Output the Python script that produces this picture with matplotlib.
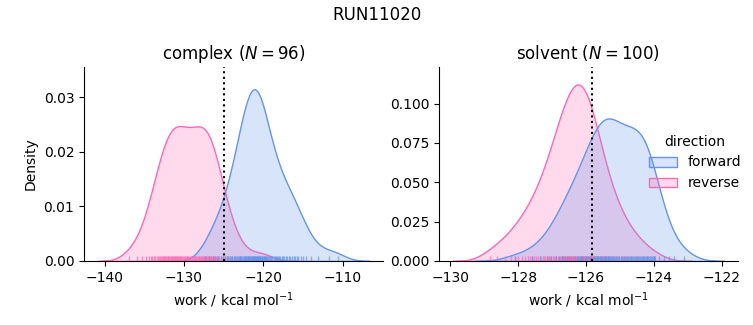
import numpy as np
import matplotlib
matplotlib.use("Agg")
import matplotlib.pyplot as plt
from matplotlib.patches import Patch
from matplotlib.colors import to_rgba

# work values (kcal/mol) per phase and direction
complex_forward = [
    -127.3, -126.8,
    -126.4, -126.1, -125.7,
    -125.4, -125.1, -124.85, -124.6,
    -124.42, -124.25, -124.08, -123.92, -123.75, -123.58,
    -123.44, -123.33, -123.22, -123.11, -123.0, -122.89, -122.78, -122.67, -122.56,
    -122.46, -122.38, -122.31, -122.23, -122.15, -122.08, -122.0, -121.92, -121.85, -121.77, -121.69, -121.62, -121.54,
    -121.47, -121.41, -121.34, -121.28, -121.22, -121.16, -121.09, -121.03,
    -120.97, -120.91, -120.84, -120.78, -120.72, -120.66, -120.59, -120.53,
    -120.46, -120.38, -120.29, -120.21, -120.13, -120.04, -119.96, -119.88, -119.79, -119.71, -119.63, -119.54,
    -119.43, -119.29, -119.14, -119.0, -118.86, -118.71, -118.57,
    -118.43, -118.29, -118.14, -118.0, -117.86, -117.71, -117.57,
    -117.4, -117.2, -117.0, -116.8, -116.6,
    -116.4, -116.2, -116.0, -115.8, -115.6,
    -115.33, -115.0, -114.67,
    -114.0, -113.1, -111.8, -110.6,
]
complex_reverse = [
    -136.9, -135.9, -135.3, -134.8,
    -134.4, -134.2, -134.0, -133.8, -133.6,
    -133.44, -133.31, -133.19, -133.06, -132.94, -132.81, -132.69, -132.56,
    -132.45, -132.35, -132.25, -132.15, -132.05, -131.95, -131.85, -131.75, -131.65, -131.55,
    -131.45, -131.36, -131.27, -131.18, -131.09, -131.0, -130.91, -130.82, -130.73, -130.64, -130.55,
    -130.44, -130.33, -130.22, -130.11, -130.0, -129.89, -129.78, -129.67, -129.56,
    -129.44, -129.33, -129.22, -129.11, -129.0, -128.89, -128.78, -128.67, -128.56,
    -128.45, -128.35, -128.25, -128.15, -128.05, -127.95, -127.85, -127.75, -127.65, -127.55,
    -127.45, -127.36, -127.27, -127.18, -127.09, -127.0, -126.91, -126.82, -126.73, -126.64, -126.55,
    -126.44, -126.33, -126.22, -126.11, -126.0, -125.89, -125.78, -125.67, -125.56,
    -125.38, -125.13, -124.88, -124.63,
    -124.33, -124.0, -123.67,
    -123.0, -121.2, -119.8,
]
solvent_forward = [
    -128.1, -127.6, -127.35,
    -127.15, -127.02, -126.9, -126.8,
    -126.72, -126.67, -126.61, -126.56, -126.5, -126.44, -126.39, -126.33, -126.28,
    -126.23, -126.19, -126.15, -126.11, -126.08, -126.04, -126.0, -125.96, -125.92, -125.89, -125.85, -125.81, -125.77,
    -125.74, -125.71, -125.69, -125.67, -125.64, -125.62, -125.6, -125.57, -125.55, -125.52, -125.5,
    -125.48, -125.45, -125.43, -125.4, -125.38, -125.36, -125.33, -125.31, -125.28, -125.26,
    -125.23, -125.2, -125.17, -125.14, -125.11, -125.08, -125.05, -125.02,
    -124.98, -124.95, -124.92, -124.89, -124.86, -124.83, -124.8, -124.77,
    -124.73, -124.7, -124.67, -124.64, -124.61, -124.58, -124.55, -124.52,
    -124.49, -124.46, -124.43, -124.4, -124.37, -124.34, -124.31,
    -124.29, -124.26, -124.24, -124.21, -124.19, -124.16, -124.14, -124.11, -124.09, -124.06, -124.04, -124.01, -123.99, -123.96,
    -123.85, -123.7, -123.55, -123.4, -123.1,
]
solvent_reverse = [
    -128.82, -128.62, -128.38,
    -128.2, -128.1, -128.0, -127.9, -127.8,
    -127.72, -127.66, -127.59, -127.53, -127.47, -127.41, -127.34, -127.28,
    -127.23, -127.2, -127.16, -127.12, -127.09, -127.05, -127.02, -126.98, -126.95, -126.91, -126.88, -126.84, -126.8, -126.77,
    -126.74, -126.72, -126.7, -126.67, -126.65, -126.63, -126.61, -126.59, -126.57, -126.54, -126.52, -126.5,
    -126.48, -126.46, -126.43, -126.41, -126.39, -126.37, -126.35, -126.33, -126.3, -126.28, -126.26,
    -126.24, -126.22, -126.2, -126.18, -126.16, -126.14, -126.12, -126.1, -126.08, -126.06, -126.04, -126.02, -126.0,
    -125.98, -125.96, -125.94, -125.92, -125.9, -125.88, -125.86, -125.84, -125.82, -125.8, -125.78, -125.76,
    -125.73, -125.69, -125.65, -125.6, -125.56, -125.52, -125.48, -125.44, -125.4, -125.35, -125.31, -125.27,
    -125.21, -125.13, -125.04, -124.96, -124.88, -124.79,
    -124.67, -124.5, -124.33, -124.0,
]

# free energy estimate per phase (dotted line)
complex_dg = -124.97
solvent_dg = -125.83

colors = {"forward": "cornflowerblue", "reverse": "hotpink"}


def kde(values, n_total):
    # gaussian kde, scott bandwidth, normalised over all groups
    values = np.asarray(values)
    bw = values.std(ddof=1) * len(values) ** (-1 / 5)
    grid = np.linspace(values.min() - 3 * bw, values.max() + 3 * bw, 200)
    dens = np.exp(-0.5 * ((grid[:, None] - values[None, :]) / bw) ** 2).sum(axis=1)
    dens /= bw * np.sqrt(2 * np.pi) * n_total
    return grid, dens


n_total = len(complex_forward) + len(complex_reverse) + len(solvent_forward) + len(solvent_reverse)

fig = plt.figure(figsize=(7.53, 3.25), dpi=100)
ax1 = fig.add_axes([0.1116, 0.197, 0.397, 0.597])
ax2 = fig.add_axes([0.583, 0.197, 0.397, 0.597])

panels = [
    (ax1, "complex", complex_forward, complex_reverse, complex_dg, 0.0355),
    (ax2, "solvent", solvent_forward, solvent_reverse, solvent_dg, 0.1233),
]

for ax, phase, fwd, rev, dg, ytop in panels:
    for name, vals in [("reverse", rev), ("forward", fwd)]:
        x, y = kde(vals, n_total)
        ax.fill_between(x, 0, y, facecolor=to_rgba(colors[name], 0.25),
                        edgecolor=colors[name], linewidth=1)
        ax.vlines(vals, 0, 0.025, transform=ax.get_xaxis_transform(),
                  colors=colors[name], linewidth=1, alpha=0.7)
    ax.axvline(dg, color="black", linestyle=":", linewidth=1.5)
    ax.set_ylim(0, ytop)
    ax.set_title(f"{phase} ($N = {len(fwd)}$)", fontsize=12)
    ax.set_xlabel("work / kcal mol$^{-1}$")
    ax.spines["top"].set_visible(False)
    ax.spines["right"].set_visible(False)

ax1.set_ylabel("Density")

handles = [Patch(facecolor=to_rgba(colors[n], 0.25), edgecolor=colors[n], linewidth=1)
           for n in ["forward", "reverse"]]
ax2.legend(handles, ["forward", "reverse"], title="direction", frameon=False,
           loc="center left", bbox_to_anchor=(0.845, 0.50),
           bbox_transform=fig.transFigure)

fig.suptitle("RUN11020", fontsize=12)
fig.savefig("out.png", dpi=100)
